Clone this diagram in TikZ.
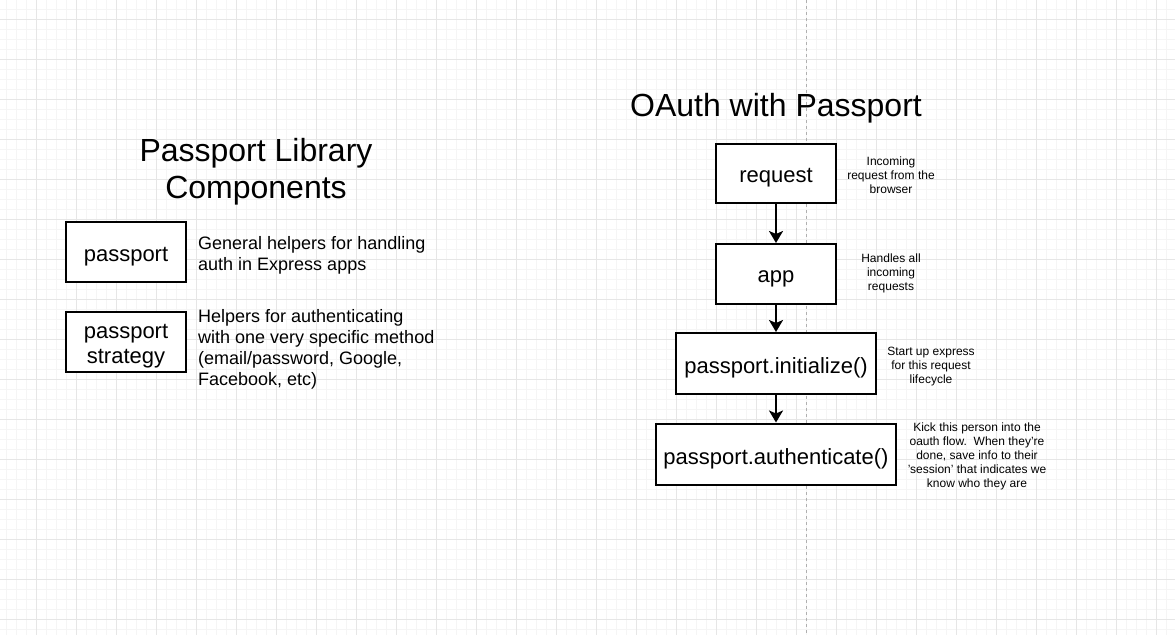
\documentclass[tikz,border=0pt]{standalone}
\usepackage{fontspec}
\setmainfont{Liberation Sans}
\usetikzlibrary{arrows.meta}
\definecolor{gridminor}{HTML}{F5F5F5}
\definecolor{gridmajor}{HTML}{E6E6E6}
\definecolor{divider}{HTML}{B0B0B0}
\tikzset{
  box/.style={draw=black, line width=2pt, fill=white, inner sep=0pt},
  boxtext/.style={inner sep=0pt, align=center, yshift=-4.5pt, font=\fontsize{22}{25}\selectfont},
  note/.style={inner sep=0pt, align=center, yshift=-1.5pt, font=\fontsize{12}{14}\selectfont},
  desc/.style={inner sep=0pt, align=left, anchor=west, yshift=-2pt, font=\fontsize{18}{21}\selectfont},
  title/.style={inner sep=0pt, align=center, yshift=-3pt, font=\fontsize{32}{37}\selectfont},
  flow/.style={line width=2.5pt, -{Stealth[length=12pt,width=14pt,inset=3pt]}},
}
\begin{document}
\begin{tikzpicture}[x=1pt,y=-1pt]
\useasboundingbox (0,0) rectangle (1175,635);
\fill[white] (0,0) rectangle (1175,635);
% grid
\foreach \x in {6,16,...,1175} \draw[gridminor, line width=1pt] (\x,0) -- (\x,635);
\foreach \y in {9,19,...,635} \draw[gridminor, line width=1pt] (0,\y) -- (1175,\y);
\foreach \x in {36,76,...,1175} \draw[gridmajor, line width=1pt] (\x,0) -- (\x,635);
\foreach \y in {19,59,...,635} \draw[gridmajor, line width=1pt] (0,\y) -- (1175,\y);
% divider
\coordinate (dtop) at (806.5,0);
\coordinate (dbot) at (806.5,635);
\draw[divider, line width=1pt, dash pattern=on 3pt off 3pt] (dtop) -- (dbot);

% left side
\node[title] (ltitle) at (256,168.5) {Passport Library\\Components};
\node[box, minimum width=120pt, minimum height=60pt, label={[boxtext]center:passport}] (pp) at (126,252) {};
\node[box, minimum width=120pt, minimum height=60pt, label={[boxtext]center:passport\\strategy}] (ps) at (126,342) {};
\node[desc] (ppd) at (198,253.5) {General helpers for handling\\auth in Express apps};
\node[desc] (psd) at (198,347.5) {Helpers for authenticating\\with one very specific method\\(email/password, Google,\\Facebook, etc)};

% right side
\node[title] (rtitle) at (776,105) {OAuth with Passport};
\node[box, minimum width=120pt, minimum height=59pt, label={[boxtext]center:request}] (req) at (776,173.5) {};
\node[box, minimum width=120pt, minimum height=60pt, label={[boxtext]center:app}] (app) at (776,274) {};
\node[box, minimum width=200pt, minimum height=61pt, label={[boxtext]center:passport.initialize()}] (init) at (776,363.5) {};
\node[box, minimum width=240pt, minimum height=61pt, label={[boxtext]center:passport.authenticate()}] (auth) at (776,454) {};

\draw[flow] (req.south) -- (app.north);
\draw[flow] (app.south) -- (init.north);
\draw[flow] (init.south) -- (auth.north);

\node[note] (reqn) at (891,174) {Incoming\\request from the\\browser};
\node[note] (appn) at (891,272) {Handles all\\incoming\\requests};
\node[note] (initn) at (931,365) {Start up express\\for this request\\lifecycle};
\node[note] (authn) at (977,455) {Kick this person into the\\oauth flow.\ \ When they're\\done, save info to their\\'session' that indicates we\\know who they are};
\end{tikzpicture}
\end{document}
